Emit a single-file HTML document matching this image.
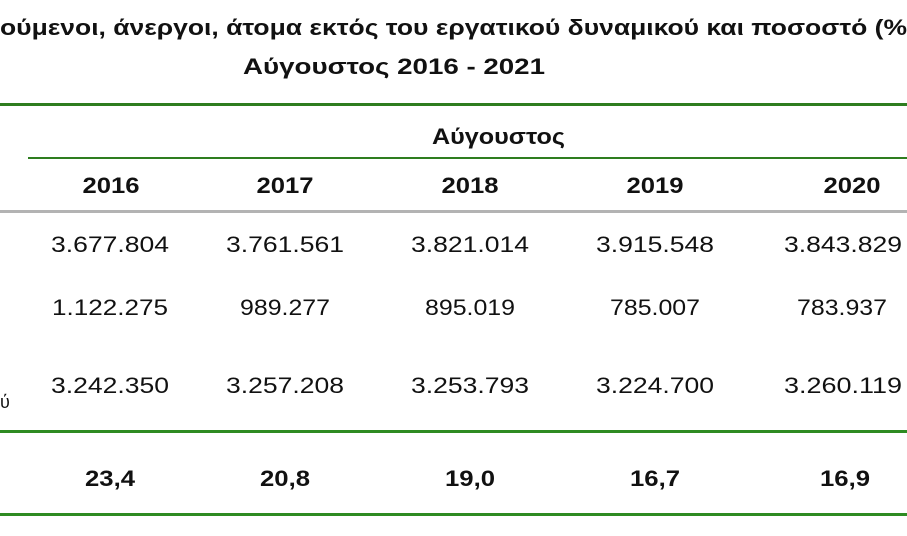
<!DOCTYPE html>
<html><head><meta charset="utf-8"><style>
html,body{margin:0;padding:0;background:#fff;}
svg{display:block;}
text{font-family:"Liberation Sans",sans-serif;fill:#111;}
.b{font-weight:bold;}
</style></head><body>
<svg width="907" height="536" viewBox="0 0 907 536" xmlns="http://www.w3.org/2000/svg">
<text class="b" x="0" y="35" font-size="22" textLength="907" lengthAdjust="spacingAndGlyphs">ούμενοι, άνεργοι, άτομα εκτός του εργατικού δυναμικού και ποσοστό (%</text>
<text class="b" x="243" y="74" font-size="22" textLength="302" lengthAdjust="spacingAndGlyphs">Αύγουστος 2016 - 2021</text>
<rect x="0" y="103" width="907" height="3" fill="#2e7d1f"/>
<text class="b" x="432" y="144" font-size="22" textLength="133" lengthAdjust="spacingAndGlyphs">Αύγουστος</text>
<rect x="28" y="157" width="879" height="2" fill="#2e7d1f"/>
<g font-size="22" text-anchor="middle">
<text class="b" x="111" y="193" textLength="57" lengthAdjust="spacingAndGlyphs">2016</text>
<text class="b" x="285" y="193" textLength="57" lengthAdjust="spacingAndGlyphs">2017</text>
<text class="b" x="470" y="193" textLength="57" lengthAdjust="spacingAndGlyphs">2018</text>
<text class="b" x="655" y="193" textLength="57" lengthAdjust="spacingAndGlyphs">2019</text>
<text class="b" x="852" y="193" textLength="57" lengthAdjust="spacingAndGlyphs">2020</text>
</g>
<rect x="0" y="210" width="907" height="3" fill="#b3b3b3"/>
<g font-size="22" text-anchor="middle">
<text x="110" y="252" textLength="118" lengthAdjust="spacingAndGlyphs">3.677.804</text>
<text x="285" y="252" textLength="118" lengthAdjust="spacingAndGlyphs">3.761.561</text>
<text x="470" y="252" textLength="118" lengthAdjust="spacingAndGlyphs">3.821.014</text>
<text x="655" y="252" textLength="118" lengthAdjust="spacingAndGlyphs">3.915.548</text>
<text x="843" y="252" textLength="118" lengthAdjust="spacingAndGlyphs">3.843.829</text>
<text x="110" y="315" textLength="116" lengthAdjust="spacingAndGlyphs">1.122.275</text>
<text x="285" y="315" textLength="90" lengthAdjust="spacingAndGlyphs">989.277</text>
<text x="470" y="315" textLength="90" lengthAdjust="spacingAndGlyphs">895.019</text>
<text x="655" y="315" textLength="90" lengthAdjust="spacingAndGlyphs">785.007</text>
<text x="842" y="315" textLength="90" lengthAdjust="spacingAndGlyphs">783.937</text>
<text x="110" y="393" textLength="118" lengthAdjust="spacingAndGlyphs">3.242.350</text>
<text x="285" y="393" textLength="118" lengthAdjust="spacingAndGlyphs">3.257.208</text>
<text x="470" y="393" textLength="118" lengthAdjust="spacingAndGlyphs">3.253.793</text>
<text x="655" y="393" textLength="118" lengthAdjust="spacingAndGlyphs">3.224.700</text>
<text x="843" y="393" textLength="118" lengthAdjust="spacingAndGlyphs">3.260.119</text>
</g>
<text x="0" y="408" font-size="18">ύ</text>
<rect x="0" y="430" width="907" height="3" fill="#2e8b22"/>
<g font-size="22" text-anchor="middle">
<text class="b" x="110" y="486" textLength="50" lengthAdjust="spacingAndGlyphs">23,4</text>
<text class="b" x="285" y="486" textLength="50" lengthAdjust="spacingAndGlyphs">20,8</text>
<text class="b" x="470" y="486" textLength="50" lengthAdjust="spacingAndGlyphs">19,0</text>
<text class="b" x="655" y="486" textLength="50" lengthAdjust="spacingAndGlyphs">16,7</text>
<text class="b" x="845" y="486" textLength="50" lengthAdjust="spacingAndGlyphs">16,9</text>
</g>
<rect x="0" y="513" width="907" height="3" fill="#2e8b22"/>
</svg>
</body></html>
